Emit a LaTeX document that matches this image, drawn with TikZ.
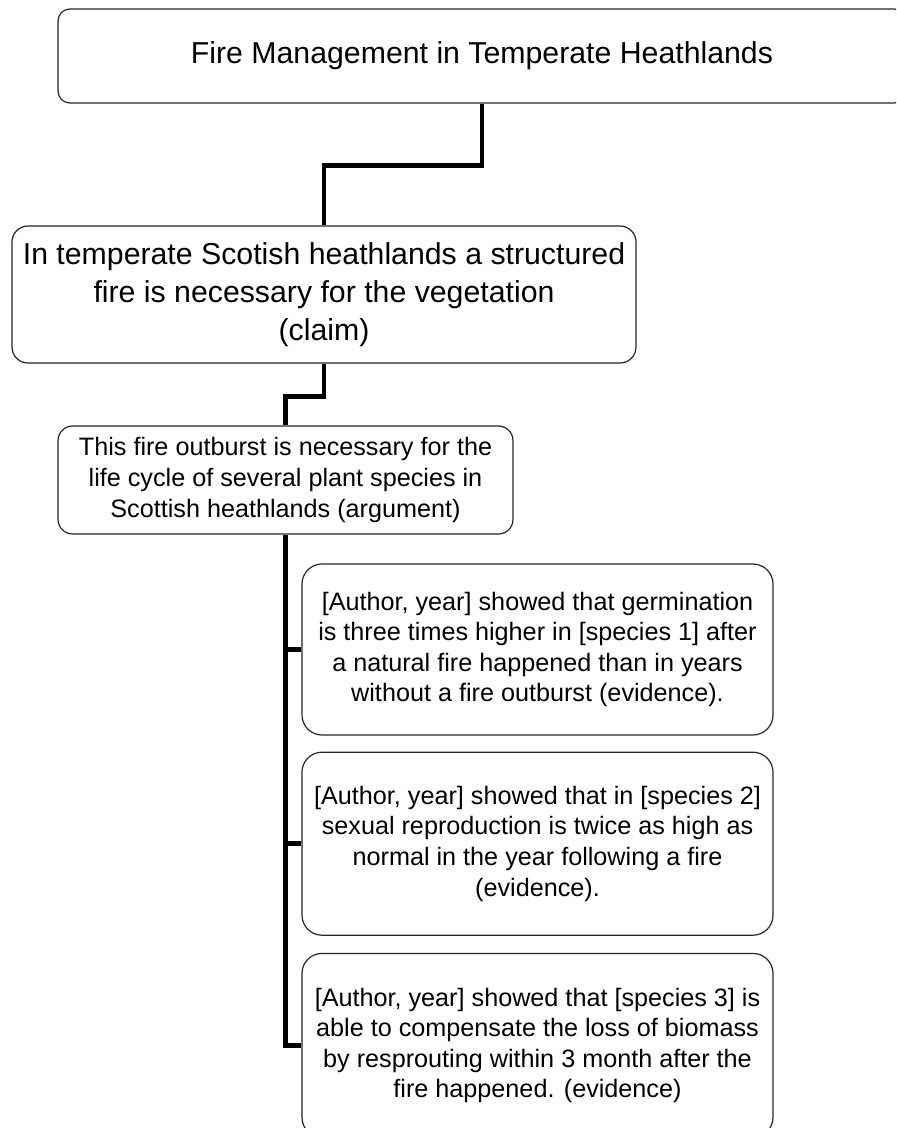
\documentclass[tikz,border=0pt]{standalone}
\usepackage{fontspec}
\setmainfont{Liberation Sans}
\usetikzlibrary{positioning,calc}

\begin{document}
\begin{tikzpicture}[
x=0.75pt,
y=-0.75pt,
box/.style={
  draw=black!85,
  line width=0.9pt,
  align=center,
  inner sep=0pt
  },
big/.style={
  box,
  font=\fontsize{22.7}{28.5}\selectfont
  },
small/.style={
  box,
  font=\fontsize{18.9}{22.9}\selectfont
  },
evidence/.style={
  small,
  rounded corners=15pt,
  minimum width=353.25pt
  },
link/.style={
  line width=3.4pt,
  line join=miter
  },
>=latex
]
\useasboundingbox (0,0) rectangle (896,1128);
\clip (0,0) rectangle (896,1128);
\fill[white] (0,0) rectangle (896,1128);

\node[big, rounded corners=9pt, minimum width=636pt, minimum height=70.5pt] (title) at (482,56) {Fire Management in Temperate Heathlands};
\node[big, rounded corners=12pt, minimum width=468pt, minimum height=102.75pt] (claim) at (324,294.5) {In temperate Scotish heathlands a structured\\fire is necessary for the vegetation\\(claim)};
\node[small, rounded corners=11pt, minimum width=341.25pt, minimum height=81pt] (argument) at (285.5,480) {This fire outburst is necessary for the\\life cycle of several plant species in\\Scottish heathlands (argument)};

\node[evidence, minimum height=128.25pt] (ev1) at (537.5,649.5) {[Author, year] showed that germination\\is three times higher in [species 1] after\\a natural fire happened than in years\\without a fire outburst (evidence).};
\node[evidence, minimum height=137.25pt, below=12pt of ev1] (ev2) {[Author, year] showed that in [species 2]\\sexual reproduction is twice as high as\\normal in the year following a fire\\(evidence).};
\node[evidence, minimum height=138pt, below=12.75pt of ev2] (ev3) {[Author, year] showed that [species 3] is\\able to compensate the loss of biomass\\by resprouting within 3 month after the\\fire happened. (evidence)};

\draw[link] (title.south) -- ++(0,62) -| (claim.north);
\draw[link] (claim.south) -- ++(0,33) -| (argument.north);
\draw[link] (argument.south) |- (ev3.west);
\foreach \ev in {ev1,ev2}
  \draw[link] (argument.south |- \ev.west) -- (\ev.west);
\end{tikzpicture}
\end{document}
